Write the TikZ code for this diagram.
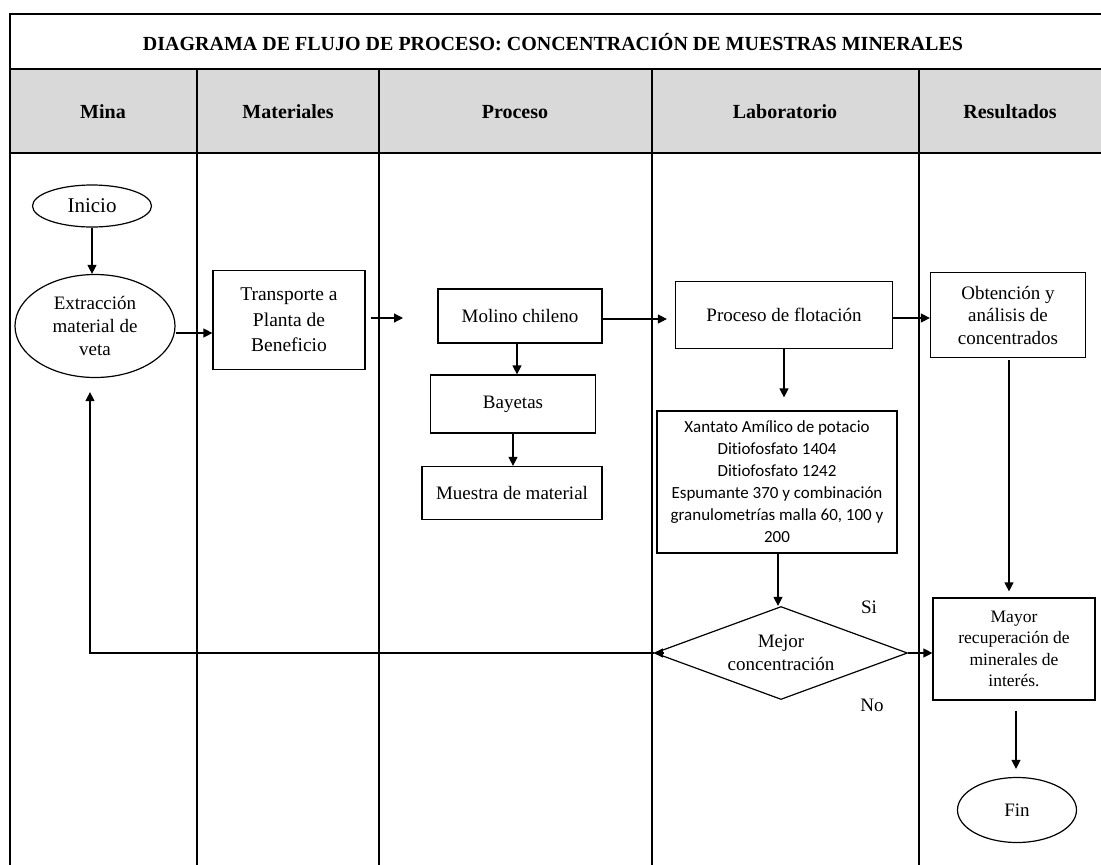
\documentclass[tikz,border=0pt]{standalone}
\usepackage{fontspec}
\setmainfont{Liberation Serif}
\newfontfamily\calib[Ligatures=NoCommon]{Carlito}
\usetikzlibrary{shapes.geometric,arrows.meta,calc}
\definecolor{hdr}{RGB}{217,217,217}
\begin{document}
\begin{tikzpicture}[x=1pt,y=-1pt,
  tbl/.style={line width=2pt,black},
  hdrtext/.style={font=\fontsize{20}{24}\selectfont\bfseries},
  box/.style={draw,line width=1.2pt,rectangle,inner sep=0pt,align=center,font=\fontsize{19}{23}\selectfont},
  oval/.style={draw,line width=1.2pt,ellipse,inner sep=0pt,align=center,font=\fontsize{19}{23}\selectfont},
  arr/.style={line width=1.2pt,-{Triangle[length=9pt,width=9pt]}},
  lbl/.style={font=\fontsize{19}{23}\selectfont}
]
\useasboundingbox (0,0) rectangle (1101,865);
% table
\fill[hdr] (10,69) rectangle (1101,153);
\draw[tbl] (1101,14) -- (10,14) -- (10,865);
\draw[tbl] (10,69) -- (1101,69);
\draw[tbl] (10,153) -- (1101,153);
\foreach \cx in {197,379,652,919} \draw[tbl] (\cx,69) -- (\cx,865);
\node[hdrtext] (title) at (553,42) {DIAGRAMA DE FLUJO DE PROCESO: CONCENTRACIÓN DE MUESTRAS MINERALES};
\node[hdrtext] (h1) at (103,112) {Mina};
\node[hdrtext] (h2) at (288,112) {Materiales};
\node[hdrtext] (h3) at (515,112) {Proceso};
\node[hdrtext] (h4) at (785,112) {Laboratorio};
\node[hdrtext] (h5) at (1010,112) {Resultados};
% nodes
\node[oval,minimum width=119pt,minimum height=42pt,font=\fontsize{21}{25}\selectfont] (ini) at (92,206) {Inicio};
\node[oval,minimum width=160pt,minimum height=103pt] (ext) at (95,326) {Extracción\\material de\\veta};
\node[box,minimum width=152pt,minimum height=99pt,font=\fontsize{19.5}{25.5}\selectfont] (tra) at (289,320) {Transporte a\\Planta de\\Beneficio};
\node[box,minimum width=164pt,minimum height=54pt] (mol) at (520,316) {Molino chileno};
\node[box,minimum width=165pt,minimum height=58pt] (bay) at (513,404) {Bayetas};
\node[box,minimum width=180pt,minimum height=53pt] (mue) at (512,493) {Muestra de material};
\node[box,minimum width=217pt,minimum height=67pt] (flo) at (784,315) {Proceso de flotación};
\node[box,minimum width=240pt,minimum height=142pt,font=\calib\fontsize{17}{22}\selectfont] (xan) at (777,482) {Xantato Amílico de potacio\\Ditiofosfato 1404\\Ditiofosfato 1242\\Espumante 370 y combinación\\granulometrías malla 60, 100 y\\200};
\node[box,minimum width=155pt,minimum height=85pt,font=\fontsize{19}{22.5}\selectfont] (obt) at (1008,315) {Obtención y\\análisis de\\concentrados};
\node[draw,line width=1.2pt,diamond,aspect=2.72,minimum width=253pt,minimum height=93pt,inner sep=0pt,align=center,font=\fontsize{19}{23}\selectfont] (dia) at (781,653) {Mejor\\concentración};
\node[box,minimum width=162pt,minimum height=102pt,font=\fontsize{17.5}{21.5}\selectfont] (may) at (1014,649) {Mayor\\recuperación de\\minerales de\\interés.};
\node[oval,minimum width=119pt,minimum height=65pt] (fin) at (1017,810) {Fin};
\node[lbl] (si) at (869,607) {Si};
\node[lbl] (no) at (872,705) {No};
% connectors
\coordinate (a1) at (403,318);
\draw[arr] (ini.south) -- (ini.south |- ext.north);
\draw[arr] ([yshift=-7pt]ext.east) -- ([yshift=-7pt]ext.east -| tra.west);
\draw[arr] ([xshift=5pt,yshift=2pt]tra.east) -- (a1);
\draw[arr] ([xshift=-3pt]mol.south) -- ([xshift=-3pt]mol.south |- bay.north);
\draw[arr] (bay.south) -- (bay.south |- mue.north);
\draw[arr] ([yshift=-3pt]mol.east) -- ([xshift=-8pt,yshift=-3pt]mol.east -| flo.west);
\draw[arr] (flo.south) -- ([yshift=13pt]flo.south |- xan.north);
\draw[arr] ([yshift=-3pt]flo.east) -- ([yshift=-3pt]flo.east -| obt.west);
\draw[arr] ([xshift=1pt]xan.south) -- ([xshift=1pt]xan.south |- dia.north);
\draw[arr] ([xshift=1pt,yshift=-2pt]obt.south) -- ([xshift=1pt,yshift=6pt]obt.south |- may.north);
\draw[arr] (dia.east) -- (dia.east -| may.west);
\draw[arr] ([xshift=2pt,yshift=-10pt]may.south) -- ([xshift=2pt,yshift=8pt]may.south |- fin.north);
\draw[arr] (dia.west) -| ([xshift=-5pt,yshift=-14pt]ext.south);
\draw[arr] ([xshift=9pt]dia.west) -- (dia.west);
\end{tikzpicture}
\end{document}
